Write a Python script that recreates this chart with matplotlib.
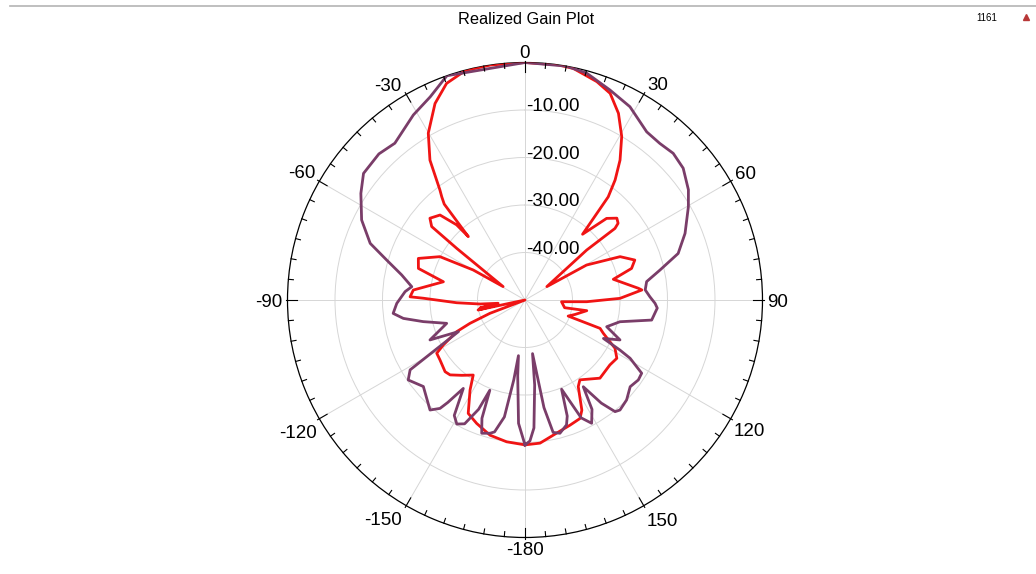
import numpy as np
import matplotlib
matplotlib.use("Agg")
import matplotlib.pyplot as plt
from matplotlib.lines import Line2D

plt.rcParams['font.family'] = ['Liberation Sans', 'DejaVu Sans']

# Realized gain traces (theta in deg, gain in dB),
# listed in drawing order from -180 through 0 to 180
red_theta = [-180, -172.6, -165.5, -158.6, -153.4, -148.6, -145.4, -140, -135,
             -131.9, -125.2, -121.1, -118.8, -114.9, -113, -110.8, -105, -102,
             -100.4, -100, -97, -95.1, -92.3, -89, -88.4, -84.9, -77.4, -73.5,
             -68.7, -63, -59.9, -58.5, -52.9, -51.8, -49.3, -45, -42.3, -41.8,
             -40.1, -38.9, -37.7, -34.2, -30.1, -24.6, -19.9, -14.6, -8.4, 0,
             8, 11.8, 18.2, 22.4, 26.6, 30.6, 34.2, 36.9, 38.9, 41.2, 45, 48.3,
             50.5, 51.5, 51, 58.5, 60.4, 65.5, 70, 73.5, 76.8, 84.1, 85.1, 89, 91.6,
             92.7, 101, 99.8, 106, 110.4, 110.7, 113, 118.2, 122.4, 127.4,
             136.2, 145.5, 148.4, 152.7, 155.1, 160.2, 166.6, 174, 180]
red_gain = [-19.5, -19.9, -20.6, -22.1, -23.3, -27.8, -30.8, -29.3, -27.7,
            -27.4, -28.1, -28.3, -30.4, -34.1, -37.4, -42.1, -50, -39.9,
            -43.6, -40.4, -44.3, -40.5, -35.6, -28.6, -25.8, -26.4, -32.4, -26.6,
            -25.9, -29.9, -37.4, -44.6, -32, -25, -23.6, -24.7, -28.6, -32.1,
            -23.6, -22.1, -20.7, -14.4, -9.4, -4.5, -1.5, -0.1, 0, 0,
            0, -0.2, -1.6, -2.95, -6.05, -10, -14.4, -18.4, -22.1, -31.6, -25.7, -24.1,
            -24.6, -25.8, -33.3, -44.6, -35.1, -28, -25.4, -26.6, -30.9, -26, -25.3, -30, -37,
            -42.3, -41.5, -36.8, -39, -40.3, -33.1, -32.1, -28.5, -27.1, -27.5,
            -27.2, -29.6, -28.6, -23.9, -22.5, -22, -21.2, -19.7, -19.5]

purple_theta = [-180, -177, -174.5, -173.3, -172, -170, -167, -165.3, -162, -160,
                -158.7, -157, -154, -151.2, -148.5, -145.1, -143, -141.9, -139.2,
                -130.4, -124.4, -121.3, -115.4, -112.8, -106.6, -102, -98.6, -95.8,
                -91.5, -86, -83.3, -78.5, -73.9, -69.9, -63.9, -57, -51.9, -45,
                -39.7, -31.1, -25, -19.2, 0, 10, 15.2, 22, 28.5, 35.9, 40.7, 45.3,
                50.2, 56, 60.3, 67.4, 73.1, 77.5, 81.4, 85.2, 88.5, 91.5, 93.5, 99,
                102.9, 108.1, 112.8, 116.1, 117.8, 119, 122.1, 125.2, 129.5, 134.5,
                139.2, 141.1, 143.5, 146.1, 148.5, 151.6, 154.5, 157.7, 160, 161.6,
                165.3, 168, 170, 172, 173.5, 176, 178, 180]
purple_gain = [-19.5, -24, -34, -38.2, -33, -25, -21.5, -21, -20.5, -23.5,
               -29.6, -25, -21, -20.2, -21.5, -27.3, -23, -21, -19.4,
               -21.9, -20.2, -21.7, -34.5, -28.3, -32.8, -28.1, -24.1, -22.1,
               -23, -24.7, -26, -23.5, -19.7, -15.3, -11.7, -8.8, -6.8, -6.5,
               -7.1, -4.5, -2.8, 0, 0, 0, -0.5, -2.3, -3.7, -6.3, -6.5, -6.1,
               -6.65, -8.5, -10.4, -13.5, -16.3, -20.9, -24.1, -24.6, -23.7, -22.6, -22.1, -23,
               -29.5, -31.9, -28.3, -31.6, -27.4, -24.7, -21, -20.8, -21.3, -20,
               -19.4, -19.8, -23, -28, -23, -20.5, -22.5, -29.7, -24, -22.3,
               -21, -21.5, -27, -38.6, -32, -23, -20.3, -19.5]

ring_levels = [-40, -30, -20, -10]
ring_labels = ['-40.00', '-30.00', '-20.00', '-10.00']
angle_ticks = [0, 30, 60, 90, 120, 150, 180, -150, -120, -90, -60, -30]
angle_labels = ['0', '30', '60', '90', '120', '150', '-180',
                '-150', '-120', '-90', '-60', '-30']

R_MIN, R_MAX = -50, 0
RED = '#f01414'
PURPLE = '#7a3d69'

fig = plt.figure(figsize=(10.36, 5.74), dpi=100)
ax = fig.add_axes([0.2775, 0.0636, 0.4585, 0.8275], projection='polar')
ax.set_theta_zero_location('N')
ax.set_theta_direction(-1)
ax.set_ylim(R_MIN, R_MAX)
ax.set_xticks(np.deg2rad(np.arange(0, 360, 30)))
ax.set_xticklabels([])
ax.set_yticks(ring_levels)
ax.set_yticklabels([])
ax.tick_params(axis='both', length=0)
ax.grid(True, color='#d6d6d6', linewidth=0.7)
ax.spines['polar'].set_color('black')
ax.spines['polar'].set_linewidth(0.9)

# traces
ax.plot(np.deg2rad(red_theta), red_gain, color=RED, lw=2.0, zorder=3)
ax.plot(np.deg2rad(purple_theta), purple_gain, color=PURPLE, lw=2.0, zorder=4)

# tick marks around the rim, every 5 deg, longer every 30 deg
db_per_px = (R_MAX - R_MIN) / (ax.get_position().width * fig.get_figwidth() * fig.dpi / 2)
for a in range(0, 360, 5):
    th = np.deg2rad(a)
    if a % 30 == 0:
        r0, r1 = R_MAX - 9 * db_per_px, R_MAX + 2 * db_per_px
    else:
        r0, r1 = R_MAX - 5 * db_per_px, R_MAX
    ax.plot([th, th], [r0, r1], color='black', lw=0.8, clip_on=False, zorder=5)

# ring labels on the 0 deg spoke
for lvl, lbl in zip(ring_levels, ring_labels):
    ax.annotate(lbl, xy=(0, lvl), xytext=(0.5, -1), textcoords='offset points',
                ha='left', va='baseline', fontsize=13.5, zorder=6)

# angle labels outside the rim, pushed out by their size
# (the diagonal ones sit a little closer to the horizontal, as in HFSS)
nudge = {30: 1.5, -30: -2.5, 150: -2.0, -150: 3.0}
angle_texts = []
for a, lbl in zip(angle_ticks, angle_labels):
    t = ax.text(np.deg2rad(a), R_MAX, lbl, ha='center', va='center_baseline',
                fontsize=13.5)
    angle_texts.append((a, t))
fig.canvas.draw()
renderer = fig.canvas.get_renderer()
for a, t in angle_texts:
    bb = t.get_window_extent(renderer)
    w, h = bb.width, 13
    s, c = abs(np.sin(np.deg2rad(a))), abs(np.cos(np.deg2rad(a)))
    r_px = 5 + 0.5 * (w * s + h * c)
    if abs(a) == 150:
        r_px += 3
    t.set_position((np.deg2rad(a + nudge.get(a, 0)), R_MAX + r_px * db_per_px))

# window decorations
fig.text(526 / 1036, 1 - 19 / 574, 'Realized Gain Plot', ha='center', va='center',
         fontsize=11.8)
fig.text(987 / 1036, 1 - 18 / 574, '1161', ha='center', va='center', fontsize=7)
fig.add_artist(Line2D([1026 / 1036], [1 - 17 / 574], marker='^', ms=4.5,
                      color='#b83838', transform=fig.transFigure))
fig.add_artist(Line2D([10 / 1036, 1], [1 - 6 / 574, 1 - 6 / 574], color='#b4b4b4',
                      lw=1.2, transform=fig.transFigure))

fig.savefig('out.png', dpi=100)
